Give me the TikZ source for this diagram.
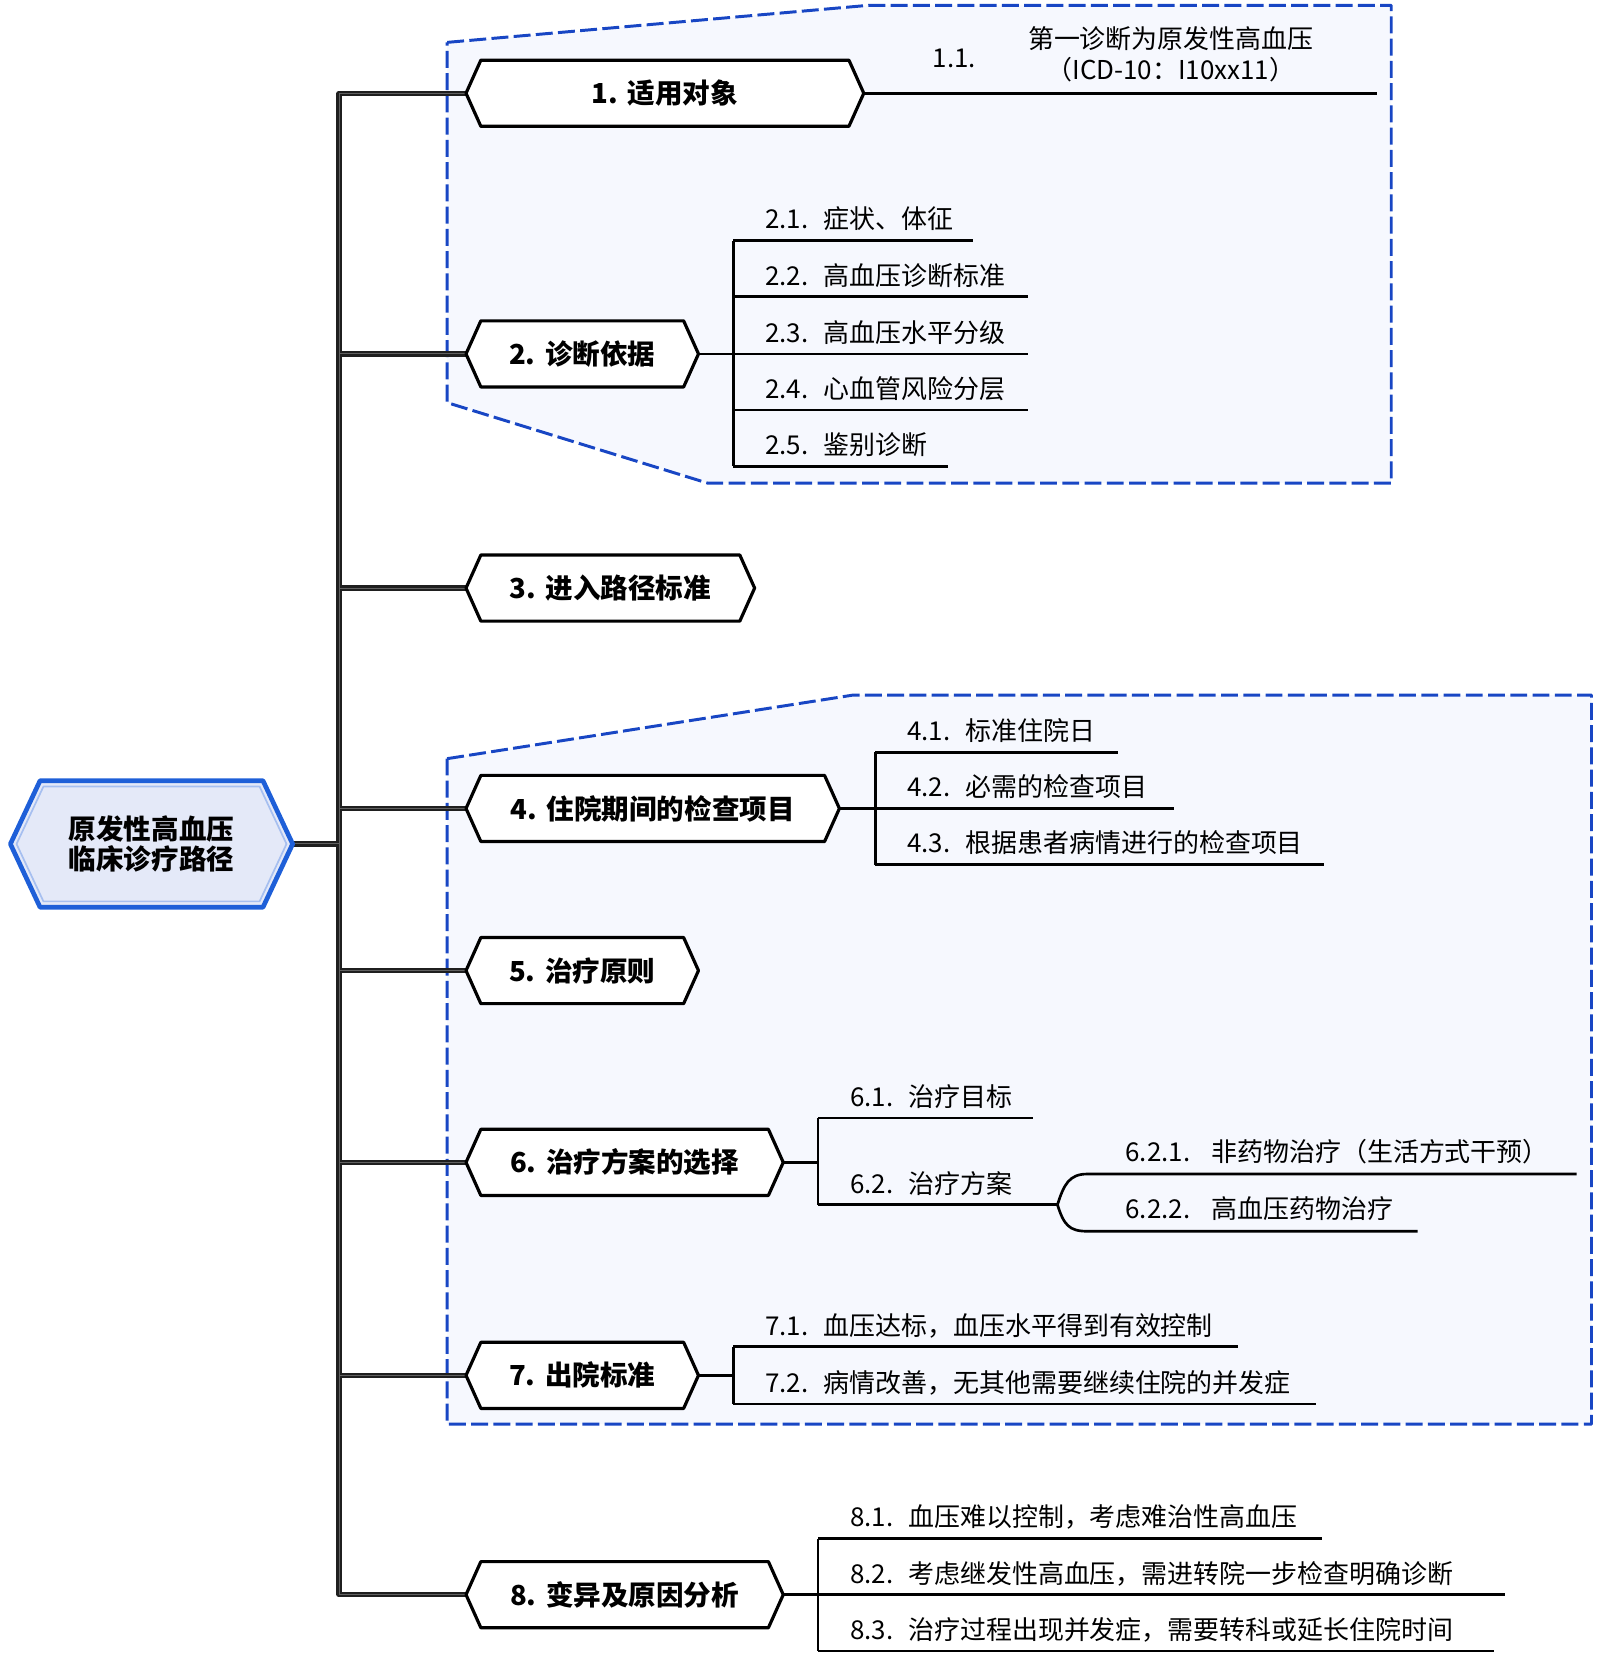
\documentclass[tikz,border=0pt]{standalone}
\usepackage{fontspec}
\setmainfont{Noto Sans CJK SC}
\usetikzlibrary{calc}
\pgfdeclarelayer{bg}
\pgfdeclarelayer{mid}
\pgfsetlayers{bg,mid,main}
\definecolor{boxblue}{HTML}{1846C4}
\definecolor{boxfill}{HTML}{F6F8FE}
\definecolor{hubfill}{HTML}{E4E9F8}
\definecolor{hubblue}{HTML}{1E5FD8}
\definecolor{hubinner}{HTML}{A6BFF0}
\newcommand\hexpath[2]{(#1.north west) -- (#1.north east) -- ($(#1.east)+(#2,0)$) -- (#1.south east) -- (#1.south west) -- ($(#1.west)+(-#2,0)$) -- cycle}
\newcommand\mainnum[1]{\makebox[34pt][l]{#1}}
\newcommand\leafnum[1]{\makebox[55pt][l]{#1}}
\newcommand\subnum[1]{\makebox[81pt][l]{#1}}
\newcommand\leafitem[5]{%
  \draw[leafline] (#2,#3) -- (#4,#3);
  \node[leaftext] (#1) at (#2+30,#3-11) {#5};}
\begin{document}
\begin{tikzpicture}[x=1pt,y=-1pt,
  region/.style={draw=boxblue, fill=boxfill, line width=2.8pt, dash pattern=on 16pt off 5pt, line join=round},
  trunkout/.style={draw=black!88, line width=5pt, line join=round},
  trunkin/.style={draw=black!62, line width=1pt, line join=round},
  mainbox/.style={draw=none, inner sep=0pt, minimum height=62pt, font=\fontsize{26}{30}\selectfont\bfseries},
  hubtext/.style={draw=none, inner sep=0pt, minimum width=210pt, minimum height=119pt, align=center, font=\fontsize{26}{29}\selectfont\bfseries},
  hexline/.style={draw=black, fill=white, line width=3pt, line join=round},
  leafline/.style={draw=black, line width=2.5pt},
  leaftext/.style={anchor=base west, inner sep=0pt, font=\fontsize{24.5}{29}\selectfont},
]
\useasboundingbox (0,0) rectangle (1510,1567.6);

% grouped regions
\begin{pgfonlayer}{bg}
\path[region] (422,40) -- (820,5) -- (1313,5) -- (1313,456) -- (668,456) -- (422,380) -- cycle;
\path[region] (422,716) -- (805,656) -- (1502,656) -- (1502,1344) -- (422,1344) -- cycle;
\end{pgfonlayer}

% central topic
\node[hubtext] (c) at (143,796.5) {原发性高血压\\临床诊疗路径};

% main topics
\node[mainbox, minimum width=347pt] (n1) at (627.5,88) {\mainnum{1.}适用对象};
\node[mainbox, minimum width=191pt] (n2) at (549.5,334) {\mainnum{2.}诊断依据};
\node[mainbox, minimum width=244pt] (n3) at (576,555) {\mainnum{3.}进入路径标准};
\node[mainbox, minimum width=324pt] (n4) at (616,763) {\mainnum{4.}住院期间的检查项目};
\node[mainbox, minimum width=191pt] (n5) at (549.5,916) {\mainnum{5.}治疗原则};
\node[mainbox, minimum width=271pt] (n6) at (589.5,1097) {\mainnum{6.}治疗方案的选择};
\node[mainbox, minimum width=191pt] (n7) at (549.5,1298) {\mainnum{7.}出院标准};
\node[mainbox, minimum width=271pt] (n8) at (589.5,1505) {\mainnum{8.}变异及原因分析};

\foreach \n in {n1,n2,n3,n4,n5,n6,n7,n8} {
  \coordinate (\n-L) at ($(\n.west)+(-14,0)$);
  \coordinate (\n-R) at ($(\n.east)+(14,0)$);
}
\coordinate (cR) at ($(c.east)+(28,0)$);
\coordinate (tj) at (320,796.5);

\begin{pgfonlayer}{mid}
\foreach \n in {n1,n2,n3,n4,n5,n6,n7,n8} \draw[trunkout] (cR) -- (tj) |- (\n-L);
\foreach \n in {n1,n2,n3,n4,n5,n6,n7,n8} \draw[trunkin] (cR) -- (tj) |- (\n-L);
\foreach \n in {n1,n2,n3,n4,n5,n6,n7,n8} \path[hexline] \hexpath{\n}{14};
\path[draw=hubblue, fill=hubfill, line width=4.4pt, line join=round] \hexpath{c}{28};
\draw[hubinner, line width=1.6pt, line join=round]
  ($(c.north west)+(3.2,5.5)$) -- ($(c.north east)+(-3.2,5.5)$) -- ($(c.east)+(22.2,0)$)
  -- ($(c.south east)+(-3.2,-5.5)$) -- ($(c.south west)+(3.2,-5.5)$) -- ($(c.west)+(-22.2,0)$) -- cycle;
\end{pgfonlayer}

% 1
\draw[leafline] (n1-R) -- (1300,88);
\node[anchor=base west, inner sep=0pt, font=\fontsize{24.5}{29}\selectfont] (l11) at (880,64) {1.1.};
\node[anchor=base, inner sep=0pt, font=\fontsize{24.5}{29}\selectfont] (l11a) at (1105,46) {第一诊断为原发性高血压};
\node[anchor=base, inner sep=0pt, font=\fontsize{24.5}{29}\selectfont] (l11b) at (1105,75) {（ICD-10：I10xx11）};

% 2
\draw[leafline] (n2-R) -- (692,334);
\draw[leafline] (692,227) -- (692,440);
\leafitem{l21}{692}{227}{918}{\leafnum{2.1.}症状、体征}
\leafitem{l22}{692}{280}{970}{\leafnum{2.2.}高血压诊断标准}
\leafitem{l23}{692}{334}{970}{\leafnum{2.3.}高血压水平分级}
\leafitem{l24}{692}{387}{970}{\leafnum{2.4.}心血管风险分层}
\leafitem{l25}{692}{440}{895}{\leafnum{2.5.}鉴别诊断}

% 4
\draw[leafline] (n4-R) -- (826,763);
\draw[leafline] (826,710) -- (826,816);
\leafitem{l41}{826}{710}{1055}{\leafnum{4.1.}标准住院日}
\leafitem{l42}{826}{763}{1108}{\leafnum{4.2.}必需的检查项目}
\leafitem{l43}{826}{816}{1250}{\leafnum{4.3.}根据患者病情进行的检查项目}

% 6
\draw[leafline] (n6-R) -- (772,1097);
\draw[leafline] (772,1055) -- (772,1137);
\leafitem{l61}{772}{1055}{975}{\leafnum{6.1.}治疗目标}
\leafitem{l62}{772}{1137}{998}{\leafnum{6.2.}治疗方案}
\coordinate (f6) at (998,1137);
\draw[leafline] (f6) .. controls (1004,1118) and (1009,1108) .. (1026,1108) -- (1488,1108);
\draw[leafline] (f6) .. controls (1004,1156) and (1009,1162) .. (1026,1162) -- (1338,1162);
\node[leaftext] (l621) at (1062,1096) {\subnum{6.2.1.}非药物治疗（生活方式干预）};
\node[leaftext] (l622) at (1062,1150) {\subnum{6.2.2.}高血压药物治疗};

% 7
\draw[leafline] (n7-R) -- (692,1298);
\draw[leafline] (692,1271) -- (692,1325);
\leafitem{l71}{692}{1271}{1168}{\leafnum{7.1.}血压达标，血压水平得到有效控制}
\leafitem{l72}{692}{1325}{1242}{\leafnum{7.2.}病情改善，无其他需要继续住院的并发症}

% 8
\draw[leafline] (n8-R) -- (772,1505);
\draw[leafline] (772,1452) -- (772,1558);
\leafitem{l81}{772}{1452}{1248}{\leafnum{8.1.}血压难以控制，考虑难治性高血压}
\leafitem{l82}{772}{1505}{1420}{\leafnum{8.2.}考虑继发性高血压，需进转院一步检查明确诊断}
\leafitem{l83}{772}{1558}{1410}{\leafnum{8.3.}治疗过程出现并发症，需要转科或延长住院时间}
\end{tikzpicture}
\end{document}
